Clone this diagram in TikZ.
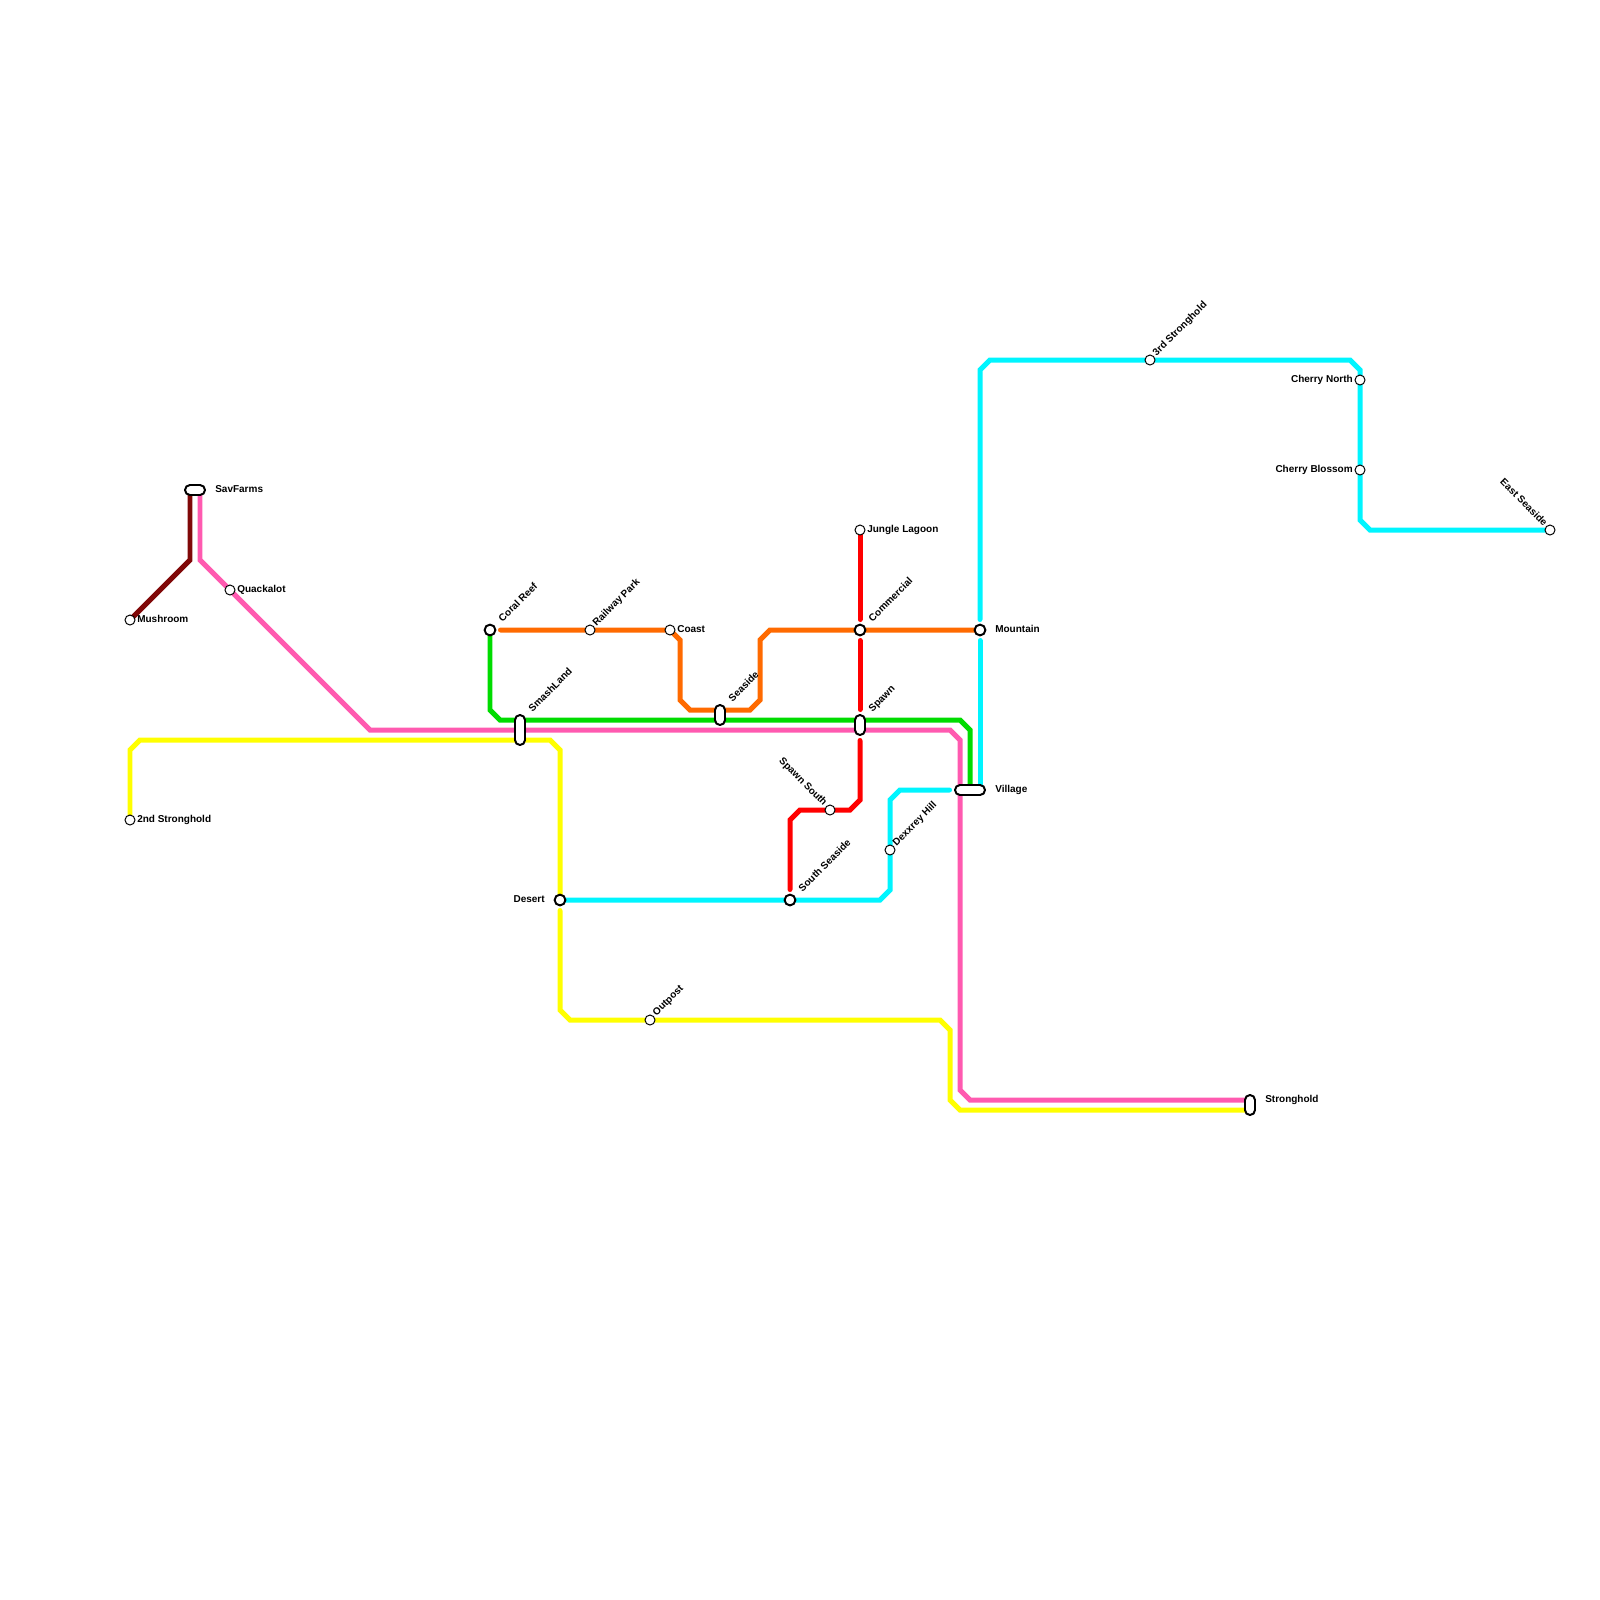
\documentclass[tikz,border=0pt]{standalone}
\usepackage{fontspec}
\setmainfont{Liberation Sans}
\usetikzlibrary{backgrounds}
\definecolor{MetroRed}{RGB}{255,0,0}
\definecolor{MetroOrange}{RGB}{255,106,0}
\definecolor{MetroGreen}{RGB}{0,220,0}
\definecolor{MetroCyan}{RGB}{0,245,255}
\definecolor{MetroYellow}{RGB}{255,255,0}
\definecolor{MetroPink}{RGB}{255,90,176}
\definecolor{MetroBrown}{RGB}{128,8,8}
\tikzset{
  stn/.style={circle,draw=black,fill=white,line width=0.7pt,minimum size=0.25cm,inner sep=0pt,outer sep=0pt},
  hub/.style={stn,line width=1.4pt,minimum size=0.27cm},
  pill/.style={rectangle,rounded corners=0.124cm,draw=black,fill=white,line width=1.4pt,inner sep=0pt,outer sep=0pt},
  lbl/.style={inner sep=0pt,font=\fontsize{7.11}{8.5}\selectfont\bfseries},
  metro/.style={line width=3.55pt,line cap=round},
  gapA/.style={shorten <=0.2625cm},
  gapB/.style={shorten >=0.2625cm}
}
\begin{document}
\begin{tikzpicture}[x=0.25cm,y=-0.25cm]
  \useasboundingbox (0,0) rectangle (160,160);

  \node[stn] (mushroom) at (13,62) {};
  \node[stn] (quackalot) at (23,59) {};
  \node[stn] (secondStronghold) at (13,82) {};
  \node[stn] (railwayPark) at (59,63) {};
  \node[stn] (coast) at (67,63) {};
  \node[stn] (outpost) at (65,102) {};
  \node[stn] (jungleLagoon) at (86,53) {};
  \node[stn] (spawnSouth) at (83,81) {};
  \node[stn] (dexxreyHill) at (89,85) {};
  \node[stn] (thirdStronghold) at (115,36) {};
  \node[stn] (cherryNorth) at (136,38) {};
  \node[stn] (cherryBlossom) at (136,47) {};
  \node[stn] (eastSeaside) at (155,53) {};
  \node[hub] (coralReef) at (49,63) {};
  \node[hub] (commercial) at (86,63) {};
  \node[hub] (mountain) at (98,63) {};
  \node[hub] (desert) at (56,90) {};
  \node[hub] (southSeaside) at (79,90) {};
  \node[pill,minimum width=0.5cm,minimum height=0.25cm] (savFarms) at (19.5,49) {};
  \node[pill,minimum width=0.25cm,minimum height=0.75cm] (smashLand) at (52,73) {};
  \node[pill,minimum width=0.25cm,minimum height=0.5cm] (seaside) at (72,71.5) {};
  \node[pill,minimum width=0.25cm,minimum height=0.5cm] (spawn) at (86,72.5) {};
  \node[pill,minimum width=0.75cm,minimum height=0.25cm] (village) at (97,79) {};
  \node[pill,minimum width=0.25cm,minimum height=0.5cm] (stronghold) at (125,110.5) {};

  \coordinate (savBrown) at (19,49);
  \coordinate (savPink) at (20,49);
  \coordinate (spawnTop) at (86,72);
  \coordinate (spawnLow) at (86,73);
  \coordinate (villageW) at (96,79);
  \coordinate (villageM) at (97,79);
  \coordinate (villageE) at (98,79);
  \coordinate (strongPink) at (125,110);
  \coordinate (strongYellow) at (125,111);

  \begin{scope}[on background layer]
    \draw[metro,MetroYellow] (secondStronghold.center)--(13,75)--(14,74)--(55,74)--(56,75)
      --(desert.center);
    \draw[metro,MetroYellow,gapA] (desert.center)--(56,101)--(57,102)--(outpost.center)
      --(94,102)--(95,103)--(95,110)--(96,111)--(strongYellow);
    \draw[metro,MetroPink] (savPink)--(20,56)--(quackalot.center)--(37,73)--(95,73)--(96,74)
      --(96,109)--(97,110)--(strongPink);
    \draw[metro,MetroBrown] (savBrown)--(19,56)--(mushroom.center);
    \draw[metro,MetroGreen] (coralReef.center)--(49,71)--(50,72)--(96,72)--(97,73)--(villageM);
    \draw[metro,MetroOrange,gapA] (coralReef.center)--(railwayPark.center)--(coast.center)
      --(68,64)--(68,70)--(69,71)--(75,71)--(76,70)--(76,64)--(77,63)--(commercial.center)
      --(mountain.center);
    \draw[metro,MetroRed,gapB] (jungleLagoon.center)--(commercial.center);
    \draw[metro,MetroRed,gapA,gapB] (commercial.center)--(spawnTop);
    \draw[metro,MetroRed,gapA,gapB] (spawnLow)--(86,80)--(85,81)--(spawnSouth.center)
      --(80,81)--(79,82)--(southSeaside.center);
    \draw[metro,MetroCyan,gapB] (eastSeaside.center)--(137,53)--(136,52)--(cherryBlossom.center)
      --(cherryNorth.center)--(136,37)--(135,36)--(thirdStronghold.center)--(99,36)--(98,37)
      --(mountain.center);
    \draw[metro,MetroCyan,gapA] (mountain.center)--(villageE);
    \draw[metro,MetroCyan,gapB] (desert.center)--(southSeaside.center)--(88,90)--(89,89)
      --(dexxreyHill.center)--(89,80)--(90,79)--(villageW);
  \end{scope}

  \node[lbl,anchor=base west] (savFarmsT) at (21.5,49.28) {SavFarms};
  \node[lbl,anchor=base west] (quackalotT) at (23.7,59.28) {Quackalot};
  \node[lbl,anchor=base west] (mushroomT) at (13.7,62.28) {Mushroom};
  \node[lbl,anchor=base west] (secondStrongholdT) at (13.7,82.28) {2nd Stronghold};
  \node[lbl,anchor=base west] (coastT) at (67.7,63.28) {Coast};
  \node[lbl,anchor=base west] (jungleLagoonT) at (86.7,53.28) {Jungle Lagoon};
  \node[lbl,anchor=base west] (mountainT) at (99.5,63.28) {Mountain};
  \node[lbl,anchor=base west] (villageT) at (99.5,79.28) {Village};
  \node[lbl,anchor=base west] (strongholdT) at (126.5,110.28) {Stronghold};
  \node[lbl,anchor=base east] (desertT) at (54.5,90.28) {Desert};
  \node[lbl,anchor=base east] (cherryNorthT) at (135.3,38.28) {Cherry North};
  \node[lbl,anchor=base east] (cherryBlossomT) at (135.3,47.28) {Cherry Blossom};
  \node[lbl,anchor=base west,rotate=45] (coralReefT) at (50.25,62.25) {Coral Reef};
  \node[lbl,anchor=base west,rotate=45] (railwayParkT) at (59.65,62.65) {Railway Park};
  \node[lbl,anchor=base west,rotate=45] (smashLandT) at (53.25,71.25) {SmashLand};
  \node[lbl,anchor=base west,rotate=45] (seasideT) at (73.25,70.25) {Seaside};
  \node[lbl,anchor=base west,rotate=45] (spawnT) at (87.25,71.25) {Spawn};
  \node[lbl,anchor=base west,rotate=45] (commercialT) at (87.25,62.25) {Commercial};
  \node[lbl,anchor=base west,rotate=45] (southSeasideT) at (80.25,89.25) {South Seaside};
  \node[lbl,anchor=base west,rotate=45] (dexxreyHillT) at (89.65,84.65) {Dexxrey Hill};
  \node[lbl,anchor=base west,rotate=45] (outpostT) at (65.65,101.65) {Outpost};
  \node[lbl,anchor=base west,rotate=45] (thirdStrongholdT) at (115.65,35.65) {3rd Stronghold};
  \node[lbl,anchor=base east,rotate=-45] (spawnSouthT) at (82.35,80.65) {Spawn South};
  \node[lbl,anchor=base east,rotate=-45] (eastSeasideT) at (154.35,52.65) {East Seaside};
\end{tikzpicture}
\end{document}
